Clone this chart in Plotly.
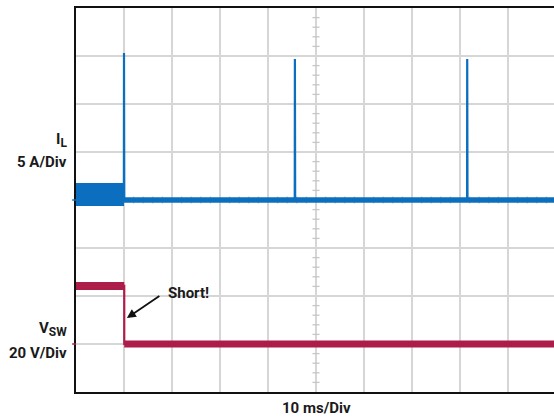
import plotly.graph_objects as go

# ---- waveform data -------------------------------------------------------
# Time axis: 10 ms per division (ms)
t_end = 99.58

# Inductor current I_L (A), 5 A/div
# switching envelope before the output short
il_sw_t = [0.0, 10.0]
il_sw_hi = [1.77, 1.77]
il_sw_lo = [-0.63, -0.63]
# settled (hiccup off-time) current after the short
il_t = [10.0, t_end]
il_a = [0.0, 0.0]
# hiccup current pulses: time (ms) and peak (A)
il_pulse_t = [10.0, 45.6, 81.5]
il_pulse_pk = [15.3, 14.7, 14.7]

# Switch-node voltage V_SW (V), 20 V/div
vsw_t = [0.0, 10.05, 10.05, t_end]
vsw_v = [24.2, 24.2, 0.0, 0.0]

BLUE = "#0B6EBE"
RED = "#AD1D49"
GRID = "#d6d6d6"
FONT = "Roboto"

fig = go.Figure()

# graticule minor ticks along the centre lines
minor_y = [k for k in range(-19, 20) if k % 5]
minor_x = [2 * k for k in range(1, 50) if k % 5]
fig.add_trace(go.Scatter(
    x=[50] * len(minor_y), y=minor_y, mode="markers",
    marker=dict(symbol="line-ew", size=5, line=dict(width=1.3, color="#c6c6c6")),
    hoverinfo="skip", showlegend=False))
fig.add_trace(go.Scatter(
    x=minor_x, y=[0] * len(minor_x), mode="markers",
    marker=dict(symbol="line-ns", size=5, line=dict(width=1.3, color="#c6c6c6")),
    hoverinfo="skip", showlegend=False))

# I_L switching band before the short
fig.add_trace(go.Scatter(
    x=il_sw_t + il_sw_t[::-1], y=il_sw_hi + il_sw_lo[::-1],
    mode="lines", fill="toself", fillcolor=BLUE,
    line=dict(width=0, color=BLUE), showlegend=False, hoverinfo="skip"))
# I_L after the short
fig.add_trace(go.Scatter(
    x=il_t, y=il_a, mode="lines",
    line=dict(width=5.5, color=BLUE), showlegend=False, hoverinfo="skip"))
# I_L hiccup pulses
px, py = [], []
for t, pk in zip(il_pulse_t, il_pulse_pk):
    px += [t - 0.03, t, t + 0.06, None]
    py += [0.0, pk, 0.0, None]
fig.add_trace(go.Scatter(
    x=px, y=py, mode="lines",
    line=dict(width=2.2, color=BLUE), showlegend=False, hoverinfo="skip"))

# V_SW: thin step plus thick noisy plateaus
fig.add_trace(go.Scatter(
    x=vsw_t, y=vsw_v, yaxis="y2", mode="lines",
    line=dict(width=2.2, color=RED), showlegend=False, hoverinfo="skip"))
fig.add_trace(go.Scatter(
    x=vsw_t[:2], y=vsw_v[:2], yaxis="y2", mode="lines",
    line=dict(width=8, color=RED), showlegend=False, hoverinfo="skip"))
fig.add_trace(go.Scatter(
    x=vsw_t[2:], y=vsw_v[2:], yaxis="y2", mode="lines",
    line=dict(width=7, color=RED), showlegend=False, hoverinfo="skip"))

lab_font = dict(family=FONT, size=15, color="#1a1a1a", weight="bold")
SUB = "<sub><span style='font-size:12px'>{}</span></sub>"

annotations = [
    dict(text="I" + SUB.format("L"), xref="paper", yref="paper", x=0, y=0.655,
         xanchor="right", yanchor="middle", xshift=-7, showarrow=False,
         font=lab_font),
    dict(text="5 A/Div", xref="paper", yref="paper", x=0, y=0.598,
         xanchor="right", yanchor="middle", xshift=-7, showarrow=False,
         font=lab_font),
    dict(text="V" + SUB.format("SW"), xref="paper", yref="paper", x=0, y=0.163,
         xanchor="right", yanchor="middle", xshift=-7, showarrow=False,
         font=lab_font),
    dict(text="20 V/Div", xref="paper", yref="paper", x=0, y=0.101,
         xanchor="right", yanchor="middle", xshift=-7, showarrow=False,
         font=lab_font),
    dict(text="10 ms/Div", xref="x", yref="paper", x=50, y=-0.042,
         xanchor="center", yanchor="middle", showarrow=False, font=lab_font),
    dict(text="Short!", xref="x", yref="y2", x=18.8, y=21.3,
         xanchor="left", yanchor="middle", showarrow=False, font=lab_font),
    dict(text="", xref="x", yref="y2", x=10.6, y=10.8,
         showarrow=True, ax=34, ay=-23, arrowhead=2, arrowsize=1,
         arrowwidth=1.8, arrowcolor="#111111"),
]

shapes = [
    # channel ground markers
    dict(type="line", xref="paper", yref="y", x0=-0.008, x1=0, y0=0, y1=0,
         line=dict(color=BLUE, width=1.5)),
    dict(type="line", xref="paper", yref="y2", x0=-0.008, x1=0, y0=0, y1=0,
         line=dict(color=RED, width=1.5)),
]

fig.update_layout(
    width=554, height=419,
    margin=dict(l=76, r=0, t=8, b=27),
    paper_bgcolor="white", plot_bgcolor="white",
    showlegend=False,
    xaxis=dict(range=[0, t_end], dtick=10, tick0=0, showgrid=True,
               gridcolor=GRID, gridwidth=2, showticklabels=False,
               zeroline=False, showline=True, mirror=True,
               linecolor="#111111", linewidth=2, ticks=""),
    yaxis=dict(range=[-20, 20], dtick=5, tick0=0, showgrid=True,
               gridcolor=GRID, gridwidth=2, showticklabels=False,
               zeroline=False, showline=True, linecolor="#111111",
               linewidth=2, ticks=""),
    yaxis2=dict(range=[-20, 140], overlaying="y", visible=False),
    annotations=annotations,
    shapes=shapes,
)

fig.write_html("out.html")
